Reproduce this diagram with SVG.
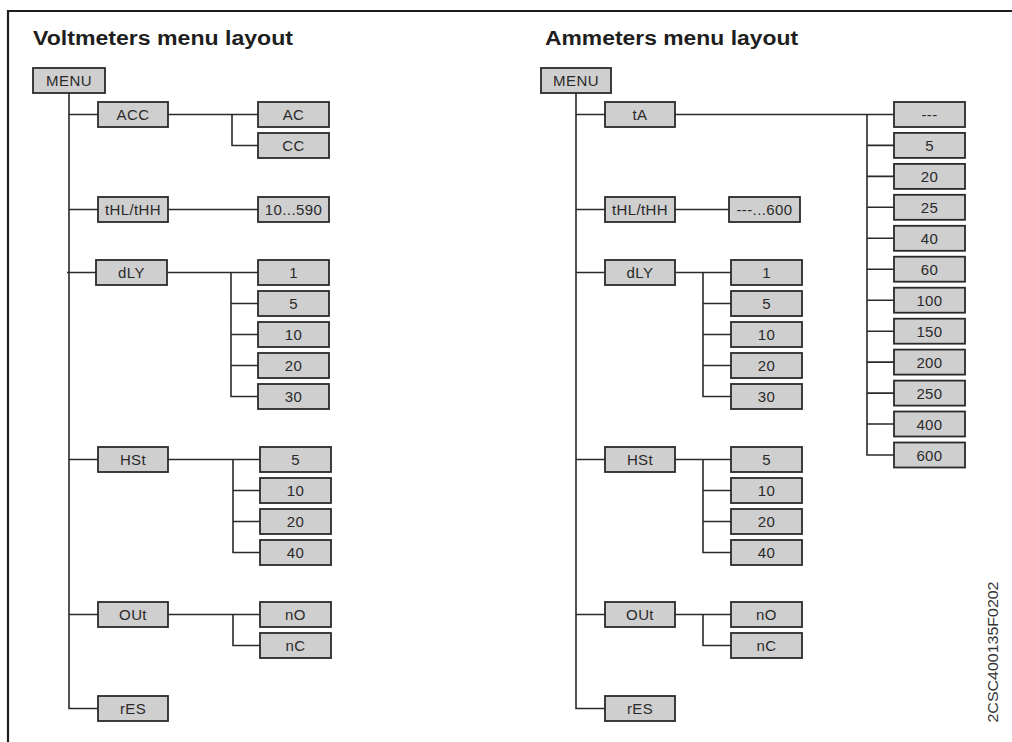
<svg xmlns="http://www.w3.org/2000/svg" width="1012" height="742" viewBox="0 0 1012 742">
<style>
.bx rect{fill:#cfcfcf;stroke:#2a2a2a;stroke-width:1.8}
.bx text{font-family:"Liberation Sans",Arial,sans-serif;font-size:15px;fill:#2a2a2a;text-anchor:middle;letter-spacing:0.4px}
.ln{fill:none;stroke:#2a2a2a;stroke-width:1.6}
.ttl{font-family:"Liberation Sans",Arial,sans-serif;font-size:20px;font-weight:bold;fill:#1e1e1e}
.code{font-family:"Liberation Sans",Arial,sans-serif;font-size:14px;fill:#333}
</style>
<rect width="1012" height="742" fill="#fff"/>
<g id="frame"><path d="M8 742 V11 H1012" fill="none" stroke="#1e1e1e" stroke-width="2.2"/></g>
<text class="ttl" x="33" y="45" textLength="260" lengthAdjust="spacingAndGlyphs">Voltmeters menu layout</text>
<text class="ttl" x="545" y="45" textLength="253" lengthAdjust="spacingAndGlyphs">Ammeters menu layout</text>
<text class="code" transform="translate(998,652) rotate(-90)" text-anchor="middle" textLength="141" lengthAdjust="spacingAndGlyphs">2CSC400135F0202</text>

<g id="connectors" class="ln">
<!-- left -->
<path d="M69 93 V708.5 H98"/>
<path d="M69 114.5 H98 M168 114.5 H258 M232 114.5 V145.5 H258"/>
<path d="M69 209.5 H98 M168 209.5 H258"/>
<path d="M67 272.5 H96 M167 272.5 H258 M231 272.5 V396.5 H258 M231 303.5 H258 M231 334.5 H258 M231 365.5 H258"/>
<path d="M69 459.5 H98 M168 459.5 H260 M233 459.5 V552.5 H260 M233 490.5 H260 M233 521.5 H260"/>
<path d="M69 614.5 H98 M168 614.5 H260 M233 614.5 V645.5 H260"/>
<!-- right -->
<path d="M576 93 V708.5 H605"/>
<path d="M576 114.5 H605 M675 114.5 H894 M867 114.5 V455 H894"/>
<path d="M867 145.4 H894 M867 176.4 H894 M867 207.3 H894 M867 238.3 H894 M867 269.2 H894 M867 300.2 H894 M867 331.2 H894 M867 362.1 H894 M867 393.1 H894 M867 424 H894"/>
<path d="M576 209.5 H605 M675 209.5 H729"/>
<path d="M576 272.5 H605 M675 272.5 H731 M703 272.5 V396.5 H731 M703 303.5 H731 M703 334.5 H731 M703 365.5 H731"/>
<path d="M576 459.5 H605 M675 459.5 H731 M703 459.5 V552.5 H731 M703 490.5 H731 M703 521.5 H731"/>
<path d="M576 614.5 H605 M675 614.5 H731 M703 614.5 V645.5 H731"/>
</g>

<!-- Left panel nodes -->
<g id="v-menu" class="bx"><rect x="33" y="68" width="72" height="25"/><text x="69" y="86">MENU</text></g>
<g id="v-acc" class="bx"><rect x="98" y="102" width="70" height="25"/><text x="133" y="120">ACC</text></g>
<g id="v-ac" class="bx"><rect x="258" y="102" width="71" height="25"/><text x="293.5" y="120">AC</text></g>
<g id="v-cc" class="bx"><rect x="258" y="133" width="71" height="25"/><text x="293.5" y="151">CC</text></g>
<g id="v-thl" class="bx"><rect x="98" y="197" width="70" height="25"/><text x="133" y="215">tHL/tHH</text></g>
<g id="v-range" class="bx"><rect x="258" y="197" width="71" height="25"/><text x="293.5" y="215">10...590</text></g>
<g id="v-dly" class="bx"><rect x="96" y="260" width="71" height="25"/><text x="131.5" y="278">dLY</text></g>
<g id="v-dly1" class="bx"><rect x="258" y="260" width="71" height="25"/><text x="293.5" y="278">1</text></g>
<g id="v-dly5" class="bx"><rect x="258" y="291" width="71" height="25"/><text x="293.5" y="309">5</text></g>
<g id="v-dly10" class="bx"><rect x="258" y="322" width="71" height="25"/><text x="293.5" y="340">10</text></g>
<g id="v-dly20" class="bx"><rect x="258" y="353" width="71" height="25"/><text x="293.5" y="371">20</text></g>
<g id="v-dly30" class="bx"><rect x="258" y="384" width="71" height="25"/><text x="293.5" y="402">30</text></g>
<g id="v-hst" class="bx"><rect x="98" y="447" width="70" height="25"/><text x="133" y="465">HSt</text></g>
<g id="v-hst5" class="bx"><rect x="260" y="447" width="71" height="25"/><text x="295.5" y="465">5</text></g>
<g id="v-hst10" class="bx"><rect x="260" y="478" width="71" height="25"/><text x="295.5" y="496">10</text></g>
<g id="v-hst20" class="bx"><rect x="260" y="509" width="71" height="25"/><text x="295.5" y="527">20</text></g>
<g id="v-hst40" class="bx"><rect x="260" y="540" width="71" height="25"/><text x="295.5" y="558">40</text></g>
<g id="v-out" class="bx"><rect x="98" y="602" width="70" height="25"/><text x="133" y="620">OUt</text></g>
<g id="v-no" class="bx"><rect x="260" y="602" width="71" height="25"/><text x="295.5" y="620">nO</text></g>
<g id="v-nc" class="bx"><rect x="260" y="633" width="71" height="25"/><text x="295.5" y="651">nC</text></g>
<g id="v-res" class="bx"><rect x="98" y="696" width="70" height="25"/><text x="133" y="714">rES</text></g>

<!-- Right panel nodes -->
<g id="a-menu" class="bx"><rect x="541" y="68" width="70" height="25"/><text x="576" y="86">MENU</text></g>
<g id="a-ta" class="bx"><rect x="605" y="102" width="70" height="25"/><text x="640" y="120">tA</text></g>
<g id="a-ta0" class="bx"><rect x="894" y="102" width="71" height="25"/><text x="929.5" y="120">---</text></g>
<g id="a-ta5" class="bx"><rect x="894" y="132.9" width="71" height="25"/><text x="929.5" y="150.9">5</text></g>
<g id="a-ta20" class="bx"><rect x="894" y="163.9" width="71" height="25"/><text x="929.5" y="181.9">20</text></g>
<g id="a-ta25" class="bx"><rect x="894" y="194.8" width="71" height="25"/><text x="929.5" y="212.8">25</text></g>
<g id="a-ta40" class="bx"><rect x="894" y="225.8" width="71" height="25"/><text x="929.5" y="243.8">40</text></g>
<g id="a-ta60" class="bx"><rect x="894" y="256.7" width="71" height="25"/><text x="929.5" y="274.7">60</text></g>
<g id="a-ta100" class="bx"><rect x="894" y="287.7" width="71" height="25"/><text x="929.5" y="305.7">100</text></g>
<g id="a-ta150" class="bx"><rect x="894" y="318.7" width="71" height="25"/><text x="929.5" y="336.7">150</text></g>
<g id="a-ta200" class="bx"><rect x="894" y="349.6" width="71" height="25"/><text x="929.5" y="367.6">200</text></g>
<g id="a-ta250" class="bx"><rect x="894" y="380.6" width="71" height="25"/><text x="929.5" y="398.6">250</text></g>
<g id="a-ta400" class="bx"><rect x="894" y="411.5" width="71" height="25"/><text x="929.5" y="429.5">400</text></g>
<g id="a-ta600" class="bx"><rect x="894" y="442.5" width="71" height="25"/><text x="929.5" y="460.5">600</text></g>
<g id="a-thl" class="bx"><rect x="605" y="197" width="70" height="25"/><text x="640" y="215">tHL/tHH</text></g>
<g id="a-range" class="bx"><rect x="729" y="197" width="71" height="25"/><text x="764.5" y="215">---...600</text></g>
<g id="a-dly" class="bx"><rect x="605" y="260" width="70" height="25"/><text x="640" y="278">dLY</text></g>
<g id="a-dly1" class="bx"><rect x="731" y="260" width="71" height="25"/><text x="766.5" y="278">1</text></g>
<g id="a-dly5" class="bx"><rect x="731" y="291" width="71" height="25"/><text x="766.5" y="309">5</text></g>
<g id="a-dly10" class="bx"><rect x="731" y="322" width="71" height="25"/><text x="766.5" y="340">10</text></g>
<g id="a-dly20" class="bx"><rect x="731" y="353" width="71" height="25"/><text x="766.5" y="371">20</text></g>
<g id="a-dly30" class="bx"><rect x="731" y="384" width="71" height="25"/><text x="766.5" y="402">30</text></g>
<g id="a-hst" class="bx"><rect x="605" y="447" width="70" height="25"/><text x="640" y="465">HSt</text></g>
<g id="a-hst5" class="bx"><rect x="731" y="447" width="71" height="25"/><text x="766.5" y="465">5</text></g>
<g id="a-hst10" class="bx"><rect x="731" y="478" width="71" height="25"/><text x="766.5" y="496">10</text></g>
<g id="a-hst20" class="bx"><rect x="731" y="509" width="71" height="25"/><text x="766.5" y="527">20</text></g>
<g id="a-hst40" class="bx"><rect x="731" y="540" width="71" height="25"/><text x="766.5" y="558">40</text></g>
<g id="a-out" class="bx"><rect x="605" y="602" width="70" height="25"/><text x="640" y="620">OUt</text></g>
<g id="a-no" class="bx"><rect x="731" y="602" width="71" height="25"/><text x="766.5" y="620">nO</text></g>
<g id="a-nc" class="bx"><rect x="731" y="633" width="71" height="25"/><text x="766.5" y="651">nC</text></g>
<g id="a-res" class="bx"><rect x="605" y="696" width="70" height="25"/><text x="640" y="714">rES</text></g>
</svg>
